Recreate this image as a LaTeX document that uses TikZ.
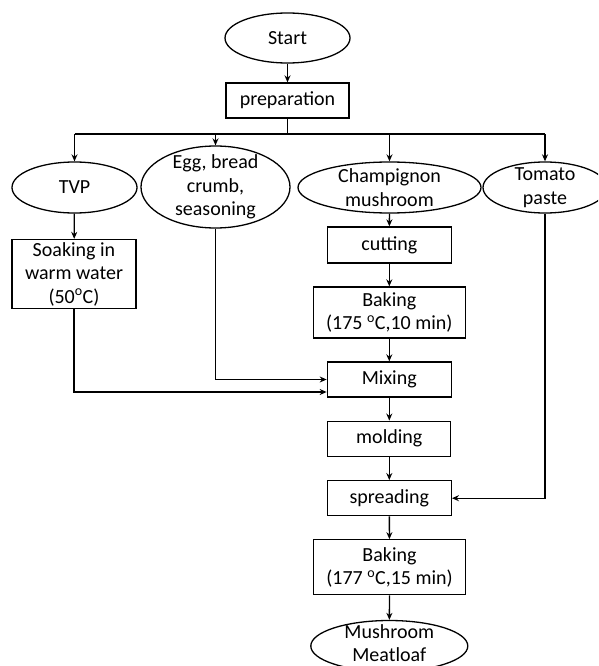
\documentclass[tikz,border=0pt]{standalone}
\usepackage{fontspec}
\setmainfont{Carlito}
\usetikzlibrary{shapes.geometric,arrows.meta}
\tikzset{
  txt/.style={font=\fontsize{20}{23.5}\selectfont, align=center, inner sep=0pt},
  oval/.style={draw, ellipse, line width=1.3pt, inner sep=0pt},
  stepbox/.style={draw, rectangle, line width=1.3pt, inner sep=0pt, font=\fontsize{20}{23.5}\selectfont, align=center},
  conn/.style={line width=1.3pt},
  arr/.style={conn, -{Stealth[length=7pt,width=6pt]}}
}
\begin{document}
\begin{tikzpicture}[x=1pt,y=-1pt]
\useasboundingbox (0,0) rectangle (598,666);
\clip (0,0) rectangle (598,666);
% ovals
\node[oval, minimum width=125pt, minimum height=50pt, label={[txt]center:Start}] (start) at (287.5,38) {};
\node[oval, minimum width=125pt, minimum height=51pt, label={[txt]center:TVP}] (tvp) at (74.5,187.5) {};
\node[oval, minimum width=149pt, minimum height=82pt, label={[txt]center:Egg, bread\\crumb,\\seasoning}] (egg) at (215.5,187) {};
\node[oval, minimum width=183pt, minimum height=51pt, label={[txt]center:Champignon\\mushroom}] (champ) at (389.5,187.5) {};
\node[oval, minimum width=124pt, minimum height=51pt, label={[txt]center:Tomato\\paste}] (tom) at (545,187.5) {};
\node[oval, minimum width=157pt, minimum height=51pt, label={[txt,yshift=3pt]center:Mushroom\\Meatloaf}] (meat) at (389.3,646) {};
% boxes
\node[stepbox, minimum width=123pt, minimum height=35pt] (prep) at (287.5,100.5) {preparation};
\node[stepbox, minimum width=124pt, minimum height=69pt] (soak) at (74,274) {Soaking in\\warm water\\(50\textsuperscript{o}C)};
\node[stepbox, minimum width=124pt, minimum height=36pt] (cut) at (389.3,245) {cutting};
\node[stepbox, minimum width=152pt, minimum height=51pt] (bake1) at (389.3,312.5) {Baking\\(175 \textsuperscript{o}C,10 min)};
\node[stepbox, minimum width=124pt, minimum height=35pt] (mix) at (389.3,379.5) {Mixing};
\node[stepbox, minimum width=123pt, minimum height=35pt] (mold) at (389.3,438.7) {molding};
\node[stepbox, minimum width=124pt, minimum height=35pt] (spread) at (389.3,498.2) {spreading};
\node[stepbox, minimum width=152pt, minimum height=55pt] (bake2) at (389.5,567.3) {Baking\\(177 \textsuperscript{o}C,15 min)};
% bus
\coordinate (busL) at (74.5,134);
\coordinate (busR) at (545,134);
% connectors
\draw[arr] (start) -- (prep);
\draw[conn] (prep.south) -- (prep.south |- busL);
\draw[conn] (busL) -- (busR);
\draw[arr] (tvp.north |- busL) -- (tvp.north);
\draw[arr] (egg.north |- busL) -- (egg.north);
\draw[arr] (champ.north |- busL) -- (champ.north);
\draw[arr] (tom.north |- busL) -- (tom.north);
\draw[arr] (tvp) -- (soak);
\draw[arr] (champ) -- (cut);
\draw[arr] (cut) -- (bake1);
\draw[arr] (bake1) -- (mix);
\draw[arr] (egg.south) |- (mix.west);
\draw[arr] (soak.south) |- ([yshift=-12.5pt]mix.west);
\draw[arr] (mix) -- (mold);
\draw[arr] (mold) -- (spread);
\draw[arr] (tom.south) |- (spread.east);
\draw[arr] (spread) -- (bake2);
\draw[arr] (bake2) -- (meat);
\end{tikzpicture}
\end{document}
